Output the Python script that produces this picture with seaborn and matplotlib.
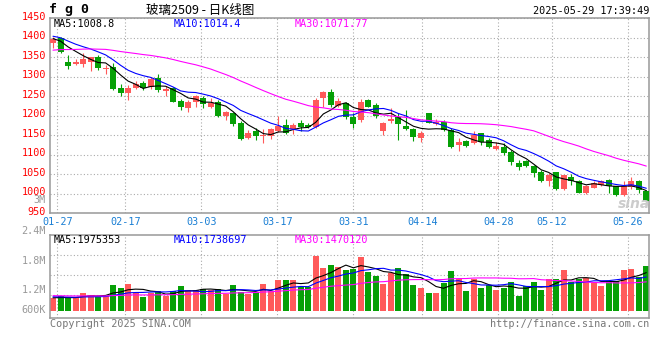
import numpy as np
import pandas as pd
import matplotlib
matplotlib.use("Agg")
import matplotlib.pyplot as plt
import matplotlib.transforms as mtrans
import seaborn as sns

# === DATA (玻璃2509 daily, 01-27 .. 05-29) ===
opens = [1386, 1400, 1338, 1332, 1333, 1339, 1351, 1319, 1325, 1272,
         1259, 1270, 1283, 1275, 1296, 1264, 1270, 1238, 1221, 1236,
         1246, 1223, 1236, 1200, 1208, 1182, 1144, 1160, 1148, 1147,
         1162, 1176, 1166, 1182, 1177, 1172, 1245, 1260, 1226, 1234,
         1198, 1188, 1241, 1228, 1162, 1187, 1197, 1175, 1166, 1144,
         1208, 1179, 1185, 1164, 1125, 1136, 1130, 1155, 1138, 1115,
         1120, 1108, 1080, 1083, 1072, 1057, 1032, 1055, 1012, 1044,
         1034, 1002, 1016, 1023, 1036, 1019, 997, 1017, 1032, 1006]
highs = [1403, 1403, 1357, 1345, 1360, 1351, 1356, 1330, 1335, 1281,
         1279, 1289, 1289, 1300, 1306, 1277, 1275, 1243, 1241, 1253,
         1251, 1246, 1241, 1213, 1211, 1186, 1164, 1168, 1166, 1170,
         1200, 1191, 1182, 1188, 1181, 1246, 1264, 1270, 1245, 1236,
         1206, 1243, 1243, 1232, 1185, 1219, 1206, 1215, 1168, 1160,
         1208, 1191, 1188, 1168, 1143, 1138, 1160, 1157, 1143, 1134,
         1130, 1113, 1087, 1087, 1074, 1060, 1053, 1057, 1049, 1050,
         1036, 1023, 1032, 1036, 1037, 1019, 1032, 1044, 1036, 1010]
lows = [1373, 1361, 1321, 1329, 1326, 1316, 1317, 1308, 1266, 1251,
        1241, 1268, 1266, 1270, 1262, 1252, 1235, 1214, 1209, 1223,
        1219, 1221, 1196, 1188, 1174, 1138, 1140, 1138, 1131, 1141,
        1159, 1154, 1154, 1162, 1168, 1168, 1223, 1223, 1222, 1192,
        1170, 1185, 1222, 1194, 1151, 1181, 1138, 1164, 1136, 1134,
        1181, 1177, 1162, 1118, 1111, 1119, 1128, 1125, 1117, 1113,
        1100, 1074, 1061, 1068, 1044, 1030, 1021, 1011, 1010, 1023,
        1002, 1000, 1015, 1021, 1003, 995, 995, 1012, 1003, 972]
closes = [1398, 1363, 1328, 1338, 1345, 1350, 1322, 1323, 1269, 1259,
          1272, 1281, 1270, 1294, 1266, 1268, 1236, 1223, 1236, 1251,
          1230, 1234, 1200, 1209, 1179, 1140, 1155, 1147, 1151, 1166,
          1174, 1156, 1177, 1172, 1172, 1241, 1262, 1228, 1238, 1198,
          1180, 1236, 1223, 1200, 1182, 1192, 1180, 1167, 1145, 1155,
          1182, 1185, 1164, 1121, 1133, 1123, 1151, 1134, 1121, 1123,
          1105, 1081, 1070, 1072, 1053, 1032, 1047, 1012, 1047, 1034,
          1003, 1019, 1027, 1033, 1019, 997, 1021, 1032, 1010, 981]
volumes = [640000, 760000, 640000, 690000, 930000, 810000, 760000, 760000, 1330000, 1190000,
           1380000, 930000, 690000, 900000, 1020000, 760000, 1020000, 1280000, 1070000, 1070000,
           1120000, 1070000, 1120000, 850000, 1330000, 980000, 870000, 980000, 1380000, 1040000,
           1590000, 1590000, 1590000, 1210000, 1210000, 2850000, 2230000, 2370000, 2250000, 2110000,
           2150000, 2800000, 2020000, 1800000, 1380000, 1940000, 2210000, 1900000, 1330000, 1180000,
           930000, 930000, 1440000, 2060000, 1620000, 1020000, 1630000, 1190000, 1310000, 1070000,
           1200000, 1490000, 780000, 1280000, 1490000, 1070000, 1640000, 1640000, 2110000, 1500000,
           1630000, 1680000, 1450000, 1300000, 1560000, 1520000, 2110000, 2160000, 1760000, 2320000]

# sessions before 01-27, only used to seed the moving averages at the left edge
pre_close = [1318, 1325, 1330, 1322, 1335, 1340, 1338, 1345, 1350, 1348,
             1355, 1352, 1360, 1358, 1365, 1362, 1370, 1368, 1378, 1390,
             1402, 1412, 1418, 1410, 1408, 1396, 1401, 1395, 1400]
pre_vol = [920000, 850000, 780000, 880000, 800000, 750000, 830000, 790000, 860000, 740000,
           820000, 780000, 850000, 800000, 770000, 840000, 790000, 810000, 760000, 780000,
           800000, 740000, 790000, 760000, 760000, 700000, 660000, 690000, 660000]

date_labels = ["01-27", "02-17", "03-03", "03-17", "03-31", "04-14", "04-28", "05-12", "05-26"]
price_ticks = [950, 1000, 1050, 1100, 1150, 1200, 1250, 1300, 1350, 1400, 1450]
vol_labels = ["3M", "2.4M", "1.8M", "1.2M", "600K"]
ma_text = ["MA5:1008.8", "MA10:1014.4", "MA30:1071.77"]
vol_ma_text = ["MA5:1975353", "MA10:1738697", "MA30:1470120"]

# === LAYOUT (pixels of the 660x360 image) ===
W, H = 660, 360
date_pos = [0.57, 9.63, 19.75, 29.87, 39.99, 49.17, 59.29, 66.4, 76.52]  # gridline x, candle units
vol_label_y = [200, 230.7, 260.7, 290.3, 310]
RED, GREEN = "#ff5a5a", "#06a006"
MA_COLORS = ["black", "#0000ff", "#ff00ff"]
FRAME = "#999999"
MONO = "DejaVu Sans Mono"


def fx(x):
    return x / W


def fy(y):
    return 1 - y / H


sns.set_style("white")
plt.rcParams["font.family"] = [MONO, "Noto Sans CJK SC"]

df = pd.DataFrame({"idx": np.arange(len(closes)), "open": opens, "high": highs,
                   "low": lows, "close": closes, "volume": volumes})
n_pre = len(pre_close)
all_close = pd.Series(pre_close + closes, dtype=float)
all_vol = pd.Series(pre_vol + volumes, dtype=float)
for w in (5, 10, 30):
    df[f"ma{w}"] = all_close.rolling(w).mean().iloc[n_pre:].values
    df[f"vma{w}"] = all_vol.rolling(w).mean().iloc[n_pre:].values
df["color"] = np.where(df["close"] >= df["open"], RED, GREEN)

fig = plt.figure(figsize=(W / 100, H / 100), dpi=100)
ax = fig.add_axes([fx(50), fy(213.3), fx(649.3) - fx(50), fy(18.3) - fy(213.3)])
axv = fig.add_axes([fx(50), fy(318.3), fx(649.3) - fx(50), fy(234.7) - fy(318.3)])

# --- candles
ax.vlines(df["idx"], df["low"], df["high"], colors=df["color"], lw=0.8, zorder=2)
body_lo = np.minimum(df["open"], df["close"])
body_h = np.maximum((df["close"] - df["open"]).abs(), 2.5)
ax.bar(df["idx"], body_h, bottom=body_lo, width=0.8, color=df["color"], lw=0, zorder=3)
for w, c in zip((5, 10, 30), MA_COLORS):
    sns.lineplot(x=df["idx"], y=df[f"ma{w}"], ax=ax, color=c, lw=0.8, zorder=4)

# --- volume
axv.bar(df["idx"], df["volume"], width=0.8, color=df["color"], lw=0, zorder=2)
for w, c in zip((5, 10, 30), MA_COLORS):
    sns.lineplot(x=df["idx"], y=df[f"vma{w}"], ax=axv, color=c, lw=0.8, zorder=4)

for a in (ax, axv):
    a.set_xlim(-0.4, 79.4)
    a.set_xticks(date_pos)
    a.grid(True, ls=(0, (1, 2)), color="#aaaaaa", lw=0.8)
    a.tick_params(length=0)
    a.set_xlabel("")
    a.set_ylabel("")
    for s in a.spines.values():
        s.set_color(FRAME)
        s.set_linewidth(1.1)

ax.set_ylim(950, 1450)
ax.set_yticks(price_ticks)
ax.set_yticklabels([str(t) for t in price_ticks], color="#ff0000", fontsize=7.3)
ax.set_xticklabels(date_labels, color="#1a7fd4", fontsize=7.3)
ax.tick_params(axis="x", pad=3)
ax.tick_params(axis="y", pad=3)
shift = mtrans.ScaledTranslation(0, 2 / 72, fig.dpi_scale_trans)
for lbl in ax.get_yticklabels():
    lbl.set_transform(lbl.get_transform() + shift)

vlo, vhi = -394000, 3938000
axv.set_ylim(vlo, vhi)
axv.set_yticks([vlo + (vhi - vlo) * f for f in (0.279, 0.518, 0.757)])
axv.set_yticklabels([])
axv.set_xticklabels([])

# --- texts
for txt, y in zip(vol_labels, vol_label_y):
    fig.text(fx(46), fy(y), txt, ha="right", va="center", fontsize=7.3, color="#999999")

for txt, x, c in zip(ma_text, (54, 174, 295), MA_COLORS):
    fig.text(fx(x), fy(24), txt, ha="left", va="center", fontsize=7.3, color=c)
for txt, x, c in zip(vol_ma_text, (54, 174, 295), MA_COLORS):
    fig.text(fx(x), fy(240), txt, ha="left", va="center", fontsize=7.3, color=c)

fig.text(fx(49), fy(10), "f g 0", ha="left", va="center", fontsize=9.5, weight="bold", color="black")
fig.text(fx(200), fy(10), "玻璃2509 - 日K线图", ha="center", va="center", fontsize=9,
         family=["Noto Sans CJK SC", "DejaVu Sans"], color="black")
fig.text(fx(649), fy(10.5), "2025-05-29 17:39:49", ha="right", va="center", fontsize=7.3, color="black")
fig.text(fx(50), fy(324), "Copyright 2025 SINA.COM", ha="left", va="center", fontsize=7.3, color="#777777")
fig.text(fx(649), fy(324), "http://finance.sina.com.cn", ha="right", va="center", fontsize=7.3, color="#777777")
fig.text(fx(634), fy(204), "sina", ha="center", va="center", fontsize=10, style="italic",
         weight="bold", family="DejaVu Sans", color="#cccccc", zorder=1)

fig.savefig("out.png", dpi=100, facecolor="white")
